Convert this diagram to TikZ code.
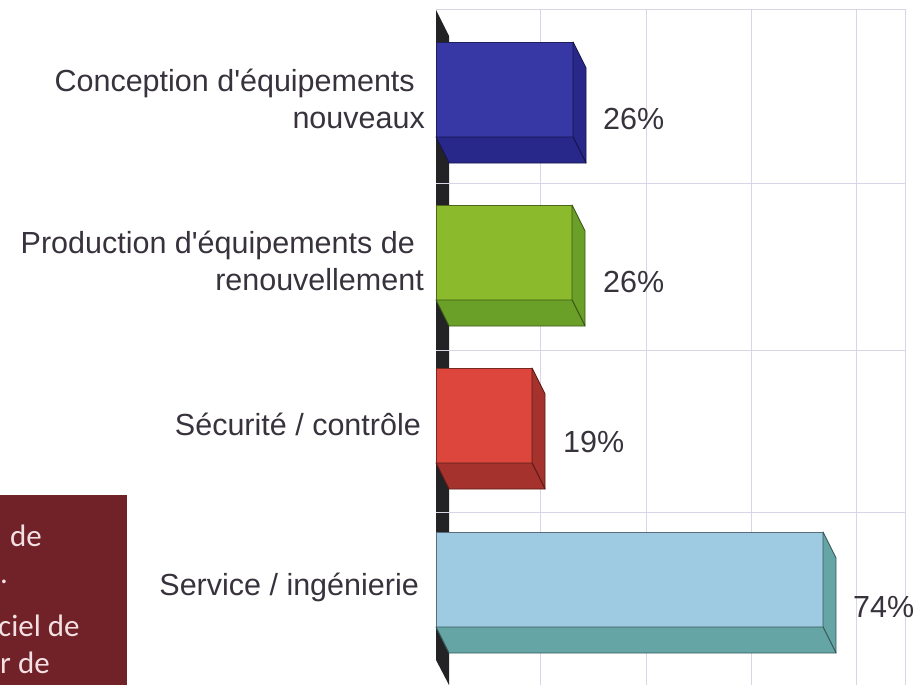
\documentclass[tikz,border=0pt]{standalone}
\usepackage{fontspec}
\setmainfont{Liberation Sans}[Ligatures=TeXOff]
\newfontfamily\boxfont{Carlito}
\usetikzlibrary{positioning}
\definecolor{gridlilac}{RGB}{218,212,230}
\definecolor{labelgray}{RGB}{55,50,60}
\definecolor{axiswall}{RGB}{35,35,38}
\definecolor{barblue}{RGB}{55,55,165}
\definecolor{barbluedk}{RGB}{40,40,138}
\definecolor{bargreen}{RGB}{140,186,45}
\definecolor{bargreendk}{RGB}{106,160,40}
\definecolor{barred}{RGB}{220,70,60}
\definecolor{barreddk}{RGB}{165,50,45}
\definecolor{barsky}{RGB}{158,202,226}
\definecolor{barskydk}{RGB}{102,165,165}
\definecolor{boxred}{RGB}{112,34,40}
\definecolor{boxpink}{RGB}{242,224,226}

\begin{document}
\begin{tikzpicture}[x=1pt, y=-1pt,
    grid/.style={gridlilac, line width=1pt},
    face/.style={draw=#1!55!black, line width=0.9pt, fill=#1, line join=round},
    catlabel/.style={anchor=base east, inner sep=0pt, align=right, text=labelgray,
        font=\fontsize{30.5}{36.5}\selectfont},
    pctlabel/.style={anchor=base west, inner sep=0pt, text=labelgray,
        font=\fontsize{30.5}{36.5}\selectfont},
    boxtext/.style={anchor=base west, inner sep=0pt, text=boxpink,
        font=\boxfont\fontsize{31}{37}\selectfont}]
    \useasboundingbox (0,0) rectangle (923,685);

    % grid and frame
    \draw[grid] (436,10) -- (905,10) -- (905,685);
    \draw[grid] (540,10) -- (540,685);
    \draw[grid] (646,10) -- (646,685);
    \draw[grid] (751,10) -- (751,685);
    \draw[grid] (856,10) -- (856,685);
    \fill[axiswall] (436,10) -- (449,36) -- (449,685) -- (436,660) -- cycle;
    \draw[grid] (436,183) -- (905,183);
    \draw[grid] (436,350) -- (905,350);
    \draw[grid] (436,512) -- (905,512);

    % bars
    \draw[face=barblue] (436,42) rectangle (573,137);
    \draw[face=barbluedk] (573,42) -- (586,68) -- (586,163) -- (573,137) -- cycle;
    \draw[face=barbluedk] (436,137) -- (573,137) -- (586,163) -- (449,163) -- cycle;

    \draw[face=bargreen] (436,205) rectangle (572,300);
    \draw[face=bargreendk] (572,205) -- (585,231) -- (585,326) -- (572,300) -- cycle;
    \draw[face=bargreendk] (436,300) -- (572,300) -- (585,326) -- (449,326) -- cycle;

    \draw[face=barred] (436,368) rectangle (532,463);
    \draw[face=barreddk] (532,368) -- (545,394) -- (545,489) -- (532,463) -- cycle;
    \draw[face=barreddk] (436,463) -- (532,463) -- (545,489) -- (449,489) -- cycle;

    \draw[face=barsky] (436,532) rectangle (823,627);
    \draw[face=barskydk] (823,532) -- (836,558) -- (836,653) -- (823,627) -- cycle;
    \draw[face=barskydk] (436,627) -- (823,627) -- (836,653) -- (449,653) -- cycle;

    % categories
    \node[catlabel] (conception) at (425,128) {Conception d'équipements\kern10pt\\nouveaux};
    \node[catlabel] (production) at (424,290) {Production d'équipements de\kern9pt\\renouvellement};
    \node[catlabel] (securite) at (421,435) {Sécurité / contrôle};
    \node[catlabel] (service) at (419,595) {Service / ingénierie};

    % values
    \node[pctlabel] (pconception) at (603,129) {26\%};
    \node[pctlabel] (pproduction) at (603,292) {26\%};
    \node[pctlabel] (psecurite) at (563,452) {19\%};
    \node[pctlabel] (pservice) at (853,617) {74\%};

    % cut-off text box
    \begin{scope}
        \clip (0,495) rectangle (127,685);
        \fill[boxred] (0,495) rectangle (127,685);
        \node[boxtext] (boxa) at (10,546) {de};
        \node[boxtext] (boxb) at (0,583) {.};
        \node[boxtext] (boxc) at (-2,636) {ciel de};
        \node[boxtext] (boxd) at (0,673) {r de};
    \end{scope}
\end{tikzpicture}
\end{document}
